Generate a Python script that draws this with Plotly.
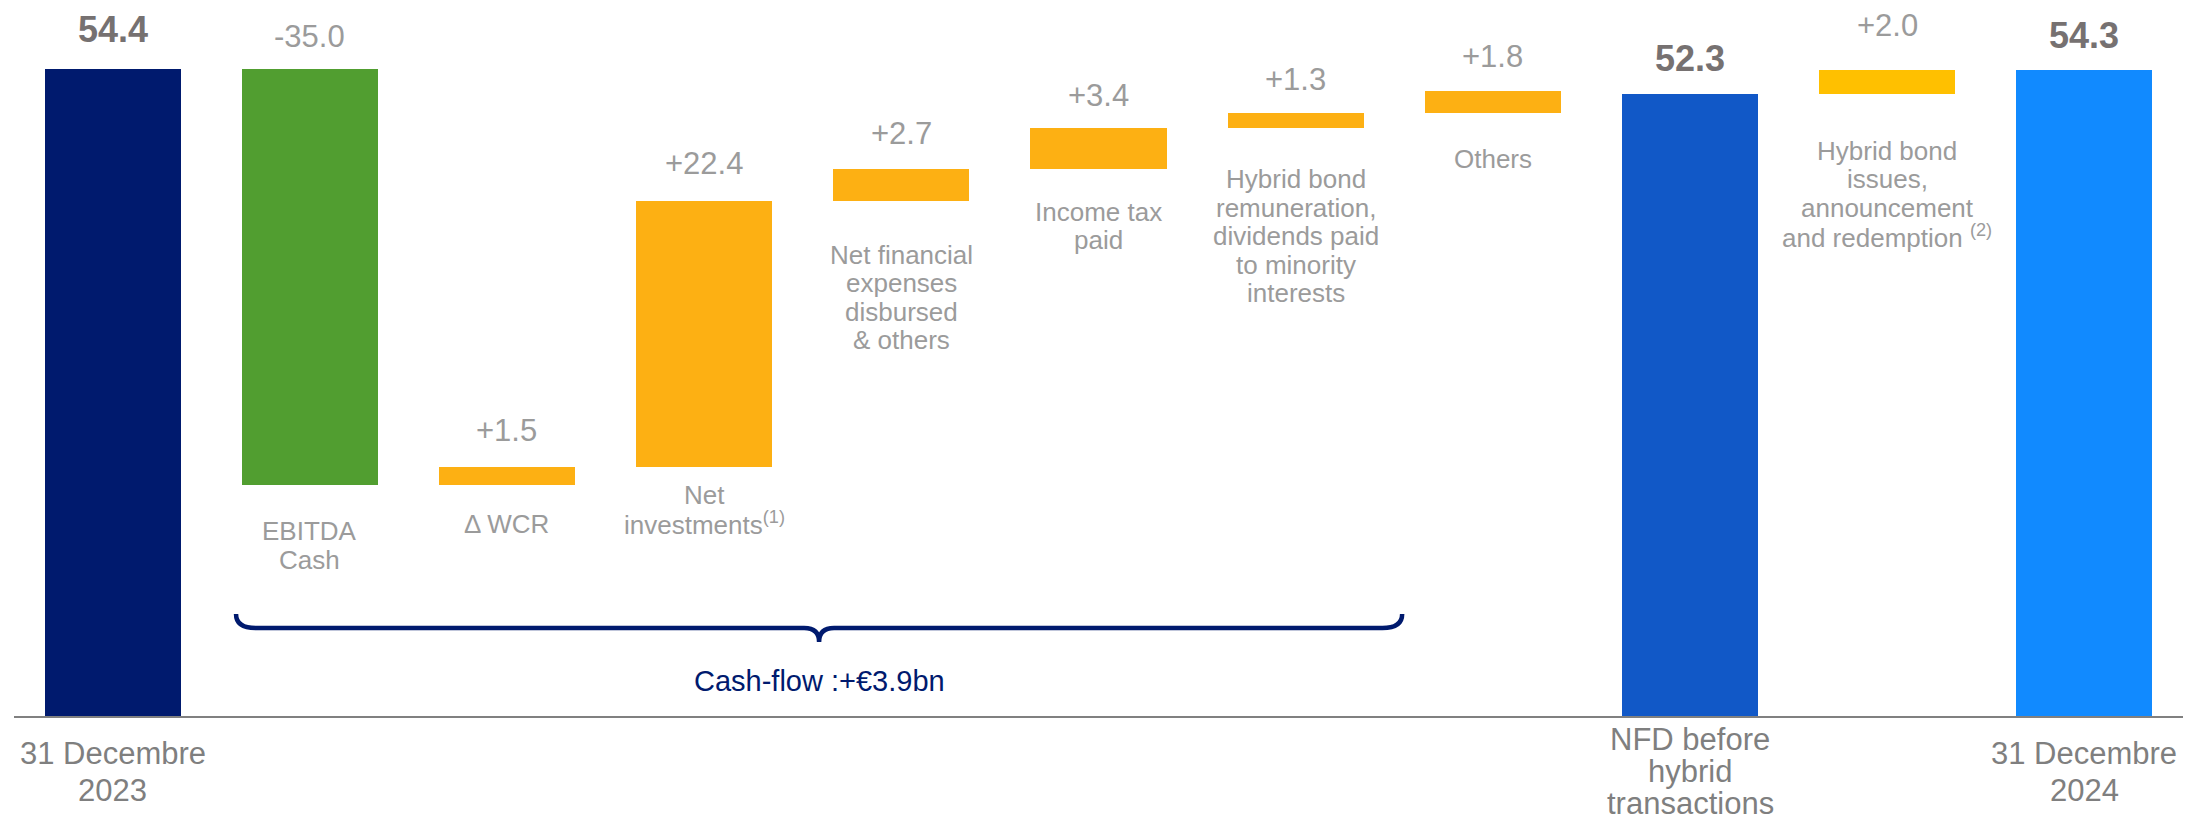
import plotly.graph_objects as go

# ---------------- data ----------------
categories = [
    "31 Decembre 2023", "EBITDA Cash", "Δ WCR", "Net investments",
    "Net financial expenses disbursed & others", "Income tax paid",
    "Hybrid bond remuneration, dividends paid to minority interests",
    "Others", "NFD before hybrid transactions",
    "Hybrid bond issues, announcement and redemption", "31 Decembre 2024",
]
values = [54.4, -35.0, 1.5, 22.4, 2.7, 3.4, 1.3, 1.8, 52.3, 2.0, 54.3]
measures = ["total", "relative", "relative", "relative", "relative", "relative",
            "relative", "relative", "total", "relative", "total"]
value_labels = ["54.4", "-35.0", "+1.5", "+22.4", "+2.7", "+3.4", "+1.3",
                "+1.8", "52.3", "+2.0", "54.3"]
label_lines = [
    ["31 Decembre", "2023"],
    ["EBITDA", "Cash"],
    ["Δ WCR"],
    ["Net", "investments<sup>(1)</sup>"],
    ["Net financial", "expenses", "disbursed", "& others"],
    ["Income tax", "paid"],
    ["Hybrid bond", "remuneration,", "dividends paid", "to minority", "interests"],
    ["Others"],
    ["NFD before", "hybrid", "transactions"],
    ["Hybrid bond", "issues,", "announcement", "and redemption <sup>(2)</sup>"],
    ["31 Decembre", "2024"],
]
brace_text = "Cash-flow :+€3.9bn"

# ---------------- styles / layout constants ----------------
bar_colors = ["#001A6E", "#519E30", "#FDB013", "#FDB013", "#FDB013", "#FDB013",
              "#FDB013", "#FDB013", "#1158C7", "#FFC000", "#118AFF"]
value_shift = [39, 32, 37, 37, 35, 33, 33, 35, 35, 44, 34]     # px above bar top
label_first = [37, 46, 39, 28, 54, 43, 51, 46, 23, 57, 37]      # px below bar bottom / axis
label_step = [37, 28.5, 28.5, 28.5, 28.5, 28.5, 28.5, 28.5, 32, 28.5, 37]
FONT = "Liberation Sans, Arial, sans-serif"

# ---------------- waterfall geometry ----------------
bases, heights = [], []
running = 0.0
for v, m in zip(values, measures):
    if m == "total":
        bases.append(0.0)
        heights.append(v)
        running = v
    else:
        bases.append(running if v >= 0 else running + v)
        heights.append(abs(v))
        running += v

xs = list(range(len(categories)))

fig = go.Figure()
fig.add_trace(go.Bar(
    x=xs, y=heights, base=bases, width=0.69,
    marker=dict(color=bar_colors, line=dict(width=0)),
    hovertext=categories, hoverinfo="text", showlegend=False,
))

annotations = []
for i in xs:
    top = bases[i] + heights[i]
    is_total = measures[i] == "total"
    annotations.append(dict(
        x=i, y=top, xref="x", yref="y",
        text=(f"<b>{value_labels[i]}</b>" if is_total else value_labels[i]),
        showarrow=False, yanchor="middle", xanchor="center", yshift=value_shift[i],
        font=dict(family=FONT, size=36 if is_total else 31,
                  color="#767171" if is_total else "#9B9B9B"),
    ))
    anchor_y = 0.0 if is_total else bases[i]
    for k, line in enumerate(label_lines[i]):
        annotations.append(dict(
            x=i, y=anchor_y, xref="x", yref="y", text=line, showarrow=False,
            yanchor="middle", xanchor="center",
            yshift=-(label_first[i] + k * label_step[i]),
            font=dict(family=FONT, size=31 if is_total else 26,
                      color="#7F7F7F" if is_total else "#9B9B9B"),
        ))

# brace under the cash-flow items
x0, x1 = 0.626, 6.54
xt = (x0 + x1) / 2
yl, ye, ytip = 7.39, 8.57, 6.22
rx, rt = 0.10, 0.076
path = (f"M {x0},{ye} Q {x0},{yl} {x0 + rx},{yl} L {xt - rt},{yl} "
        f"Q {xt},{yl} {xt},{ytip} Q {xt},{yl} {xt + rt},{yl} "
        f"L {x1 - rx},{yl} Q {x1},{yl} {x1},{ye}")
shapes = [dict(type="path", xref="x", yref="y", path=path,
               line=dict(color="#001A6E", width=4.5), fillcolor="rgba(0,0,0,0)")]
annotations.append(dict(
    x=xt, y=yl, xref="x", yref="y", text=brace_text, showarrow=False,
    yanchor="middle", xanchor="center", yshift=-53,
    font=dict(family=FONT, size=29, color="#001A6E"),
))

fig.update_layout(
    width=2185, height=822,
    margin=dict(l=14, r=2, t=2, b=106),
    plot_bgcolor="white", paper_bgcolor="white",
    bargap=0, showlegend=False,
    xaxis=dict(range=[-0.5, 10.5], showgrid=False, zeroline=False,
               showticklabels=False, ticks="", showline=True,
               linecolor="#808080", linewidth=2, fixedrange=True),
    yaxis=dict(range=[0, 60], visible=False, showgrid=False, zeroline=False,
               fixedrange=True),
    annotations=annotations, shapes=shapes,
    font=dict(family=FONT),
)

fig.write_html("out.html", config={"displayModeBar": False},
               post_script="document.body.style.margin='0';document.body.style.overflow='hidden';")
